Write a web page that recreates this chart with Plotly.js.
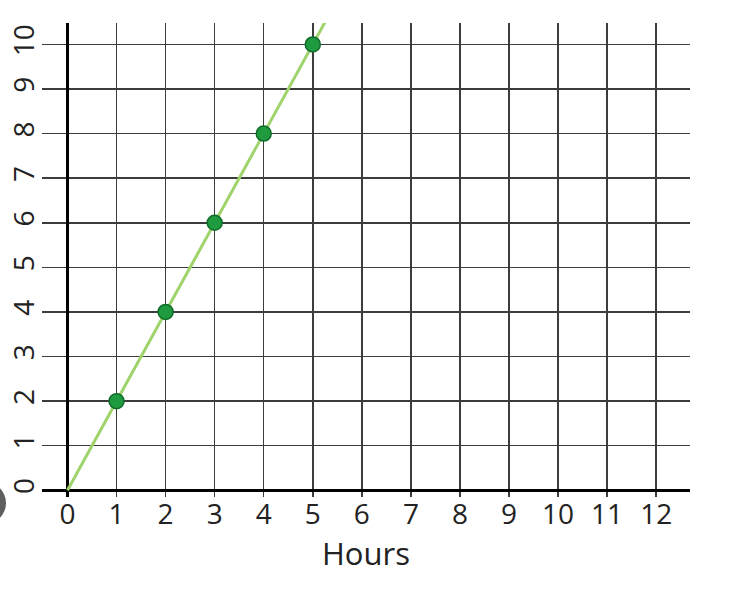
<!DOCTYPE html>
<html>
<head>
<meta charset="utf-8">
<script src="https://cdn.plot.ly/plotly-3.0.1.min.js"></script>
<style>html,body{margin:0;padding:0;background:#fff;}#chart{width:730px;height:590px;}</style>
</head>
<body>
<div id="chart"></div>
<script>
const hours = [1, 2, 3, 4, 5];
const values = [2, 4, 6, 8, 10];
const lineHours = [0, 6];
const lineValues = [0, 12];
const xTicks = [0,1,2,3,4,5,6,7,8,9,10,11,12];
const yTicks = [0,1,2,3,4,5,6,7,8,9,10];
const xTitle = 'Hours';

const traces = [
  {x: lineHours, y: lineValues, mode: 'lines', line: {color: '#9fd36b', width: 3}, hoverinfo: 'skip'},
  {x: hours, y: values, mode: 'markers', marker: {size: 15, color: '#1f9a3e', line: {color: '#0f6b29', width: 1.5}}, cliponaxis: false}
];

const layout = {
  width: 730, height: 590,
  margin: {l: 42, r: 40, t: 23, b: 93},
  paper_bgcolor: '#ffffff', plot_bgcolor: '#ffffff',
  showlegend: false,
  font: {family: 'Open Sans, sans-serif', color: '#222'},
  xaxis: {
    range: [-0.52, 12.69], tickvals: xTicks, ticktext: xTicks.map(String),
    showgrid: true, gridcolor: '#3c3c3c', gridwidth: 1.5,
    zeroline: true, zerolinecolor: '#000', zerolinewidth: 3.5,
    showline: false, ticks: '', tickfont: {size: 28, color: '#222'},
    ticklabelstandoff: -2,
    title: {text: xTitle, font: {size: 31, color: '#222'}, standoff: 2},
    fixedrange: true
  },
  yaxis: {
    range: [-0.15, 10.48], tickvals: yTicks, ticktext: yTicks.map(String),
    showgrid: true, gridcolor: '#3c3c3c', gridwidth: 1.5,
    zeroline: true, zerolinecolor: '#000', zerolinewidth: 3.5,
    showline: false, ticks: '', tickangle: -90, tickfont: {size: 28, color: '#222'},
    ticklabelstandoff: 1,
    fixedrange: true
  },
  shapes: [
    {type: 'circle', xref: 'paper', yref: 'paper', xsizemode: 'pixel', ysizemode: 'pixel',
     xanchor: 0, yanchor: 0, x0: -78, x1: -36, y0: -27, y1: 15,
     fillcolor: '#5f5f5f', line: {width: 0}, layer: 'above'}
  ]
};

Plotly.newPlot('chart', traces, layout, {staticPlot: true, displayModeBar: false});
</script>
</body>
</html>
